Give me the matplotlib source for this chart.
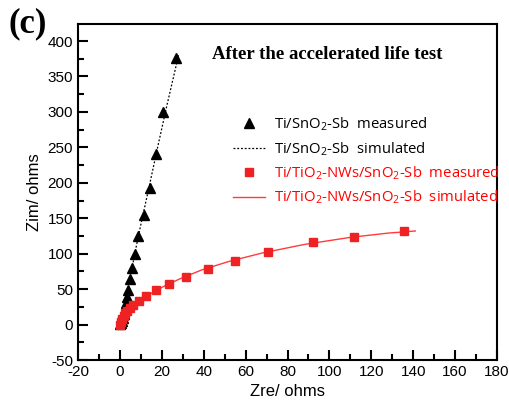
import numpy as np
import matplotlib.pyplot as plt
from matplotlib.ticker import MultipleLocator

# Ti/SnO2-Sb (measured / simulated)
sno2_re = [0.2, 0.5, 0.9, 1.3, 1.8, 2.3, 2.8, 3.3, 4.0, 4.8, 5.9, 7.2, 8.7, 11.5, 14.3, 17.3, 20.7, 26.7]
sno2_im = [0.5, 2, 5, 9, 15, 22, 30, 39, 49, 64, 80, 100, 125, 155, 193, 240, 300, 376]
sno2_sim_re = [0.0, 0.5, 1.2, 2.0, 3.0, 4.2, 5.8, 7.8, 10.5, 14.0, 18.0, 22.5, 28.0]
sno2_sim_im = [0.0, 3, 10, 20, 35, 55, 80, 110, 148, 195, 250, 310, 380]

# Ti/TiO2-NWs/SnO2-Sb (measured / simulated)
nw_re = [0.0, 0.5, 1.0, 1.8, 2.6, 3.5, 4.8, 6.4, 8.9, 12.4, 17.2, 23.4, 31.5, 42.1, 55.0, 70.8, 92.0, 111.8, 135.7]
nw_im = [0, 4, 8, 12, 16, 19, 23, 27, 33, 40, 49, 57, 67, 78, 90, 102, 116, 124, 132]
nw_sim_re = [0.0, 1.0, 2.5, 4.5, 7.0, 10.5, 15.0, 21.0, 29.0, 39.0, 52.0, 68.0, 88.0, 110.0, 128.0, 141.0]
nw_sim_im = [0, 8, 15, 22, 28, 35, 44, 54, 65, 77, 89, 101, 113, 123, 129, 132]

plt.rcParams['font.family'] = ['Liberation Sans', 'DejaVu Sans']
plt.rcParams['axes.unicode_minus'] = False
plt.rcParams['mathtext.fontset'] = 'custom'
plt.rcParams['mathtext.rm'] = 'Open Sans'

fig = plt.figure(figsize=(5.1, 4.07), dpi=100)
ax = fig.add_axes([78 / 510, 1 - 360 / 407, 419 / 510, 336 / 407])

ax.plot(sno2_sim_re, sno2_sim_im, ls=(0, (1.5, 1.5)), color='black', lw=0.9,
        label='Ti/SnO$_2$-Sb  simulated')
ax.plot(sno2_re, sno2_im, '^', color='black', ms=6.5, ls='none',
        label='Ti/SnO$_2$-Sb  measured')
ax.plot(nw_sim_re, nw_sim_im, '-', color='#ff3b3b', lw=1.0,
        label='Ti/TiO$_2$-NWs/SnO$_2$-Sb  simulated')
ax.plot(nw_re, nw_im, 's', color='#ee2222', ms=6, ls='none',
        label='Ti/TiO$_2$-NWs/SnO$_2$-Sb  measured')

ax.set_xlim(-20, 180)
ax.set_ylim(-50, 424)
ax.xaxis.set_major_locator(MultipleLocator(20))
ax.xaxis.set_minor_locator(MultipleLocator(10))
ax.yaxis.set_major_locator(MultipleLocator(50))
ax.yaxis.set_minor_locator(MultipleLocator(25))
ax.tick_params(which='both', direction='in', top=False, right=False, labelsize=11, width=1.5)
ax.tick_params(which='major', length=7)
ax.tick_params(which='minor', length=4)
for s in ax.spines.values():
    s.set_linewidth(1.5)

ax.set_xlabel('Zre/ ohms', fontsize=12)
ax.set_ylabel('Zim/ ohms', fontsize=12)

h, l = ax.get_legend_handles_labels()
order = [1, 0, 3, 2]
leg = ax.legend([h[i] for i in order], [l[i] for i in order], loc='upper left',
                bbox_to_anchor=(0.355, 0.745), frameon=False, borderaxespad=0,
                labelcolor=['black', 'black', 'red', 'red'], handlelength=2.2,
                handletextpad=0.6, labelspacing=0.45,
                prop={'family': 'Open Sans', 'size': 10.7})

ax.text(0.32, 0.91, 'After the accelerated life test', transform=ax.transAxes,
        family='Liberation Serif', weight='bold', fontsize=13.5, va='center')
fig.text(9 / 510, 1 - 24 / 407, '(c)', family='Liberation Serif', weight='bold',
         fontsize=25, va='center')

fig.savefig('out.png', dpi=100)
